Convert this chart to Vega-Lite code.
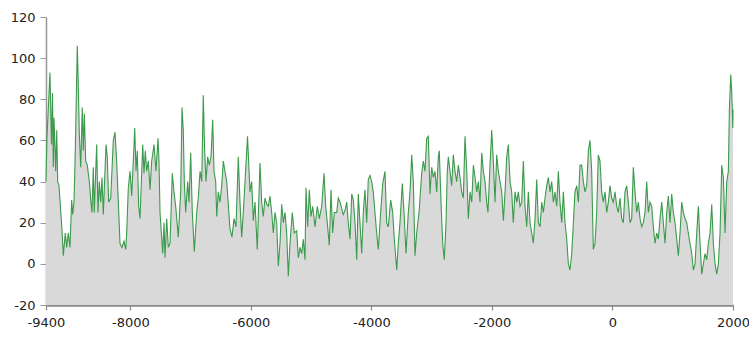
{
  "$schema": "https://vega.github.io/schema/vega-lite/v6.json",
  "width": 687,
  "height": 288,
  "autosize": "none",
  "padding": {"left": 46, "top": 17, "right": 16, "bottom": 33},
  "background": "white",
  "config": {"view": {"stroke": null}},
  "data": {"values": [
    {"year": -9400, "value": 40}, {"year": -9383, "value": 62}, {"year": -9334, "value": 93}, {"year": -9309, "value": 58},
    {"year": -9292, "value": 83}, {"year": -9279, "value": 47}, {"year": -9267, "value": 71}, {"year": -9239, "value": 45},
    {"year": -9222, "value": 65}, {"year": -9206, "value": 40}, {"year": -9184, "value": 38}, {"year": -9134, "value": 16},
    {"year": -9113, "value": 4}, {"year": -9080, "value": 15}, {"year": -9057, "value": 8}, {"year": -9030, "value": 15},
    {"year": -9002, "value": 8}, {"year": -8974, "value": 31}, {"year": -8957, "value": 24}, {"year": -8935, "value": 30},
    {"year": -8914, "value": 55}, {"year": -8881, "value": 106}, {"year": -8869, "value": 93}, {"year": -8847, "value": 63},
    {"year": -8824, "value": 47}, {"year": -8798, "value": 76}, {"year": -8781, "value": 55}, {"year": -8764, "value": 73},
    {"year": -8741, "value": 50}, {"year": -8715, "value": 48}, {"year": -8681, "value": 40}, {"year": -8658, "value": 31},
    {"year": -8637, "value": 25}, {"year": -8615, "value": 47}, {"year": -8599, "value": 25}, {"year": -8559, "value": 58},
    {"year": -8537, "value": 25}, {"year": -8516, "value": 40}, {"year": -8492, "value": 30}, {"year": -8471, "value": 42},
    {"year": -8449, "value": 24}, {"year": -8404, "value": 58}, {"year": -8383, "value": 52}, {"year": -8360, "value": 30},
    {"year": -8326, "value": 32}, {"year": -8283, "value": 60}, {"year": -8255, "value": 64}, {"year": -8227, "value": 50},
    {"year": -8200, "value": 30}, {"year": -8172, "value": 10}, {"year": -8139, "value": 8}, {"year": -8106, "value": 11},
    {"year": -8077, "value": 7}, {"year": -8061, "value": 15}, {"year": -8034, "value": 37}, {"year": -8006, "value": 45},
    {"year": -7978, "value": 33}, {"year": -7951, "value": 50}, {"year": -7928, "value": 66}, {"year": -7906, "value": 45},
    {"year": -7885, "value": 55}, {"year": -7862, "value": 28}, {"year": -7840, "value": 22}, {"year": -7795, "value": 58},
    {"year": -7774, "value": 44}, {"year": -7752, "value": 55}, {"year": -7729, "value": 45}, {"year": -7702, "value": 50},
    {"year": -7674, "value": 36}, {"year": -7646, "value": 50}, {"year": -7608, "value": 58}, {"year": -7575, "value": 45},
    {"year": -7541, "value": 61}, {"year": -7525, "value": 50}, {"year": -7508, "value": 25}, {"year": -7463, "value": 5},
    {"year": -7442, "value": 20}, {"year": -7425, "value": 3}, {"year": -7397, "value": 22}, {"year": -7371, "value": 8},
    {"year": -7342, "value": 10}, {"year": -7304, "value": 44}, {"year": -7276, "value": 35}, {"year": -7248, "value": 28},
    {"year": -7205, "value": 13}, {"year": -7165, "value": 35}, {"year": -7143, "value": 76}, {"year": -7122, "value": 65},
    {"year": -7105, "value": 40}, {"year": -7082, "value": 25}, {"year": -7049, "value": 40}, {"year": -7027, "value": 30},
    {"year": -6999, "value": 54}, {"year": -6972, "value": 25}, {"year": -6939, "value": 6}, {"year": -6899, "value": 25},
    {"year": -6873, "value": 32}, {"year": -6844, "value": 45}, {"year": -6816, "value": 40}, {"year": -6790, "value": 82},
    {"year": -6767, "value": 55}, {"year": -6745, "value": 40}, {"year": -6717, "value": 52}, {"year": -6690, "value": 48},
    {"year": -6662, "value": 52}, {"year": -6634, "value": 70}, {"year": -6612, "value": 45}, {"year": -6584, "value": 40},
    {"year": -6567, "value": 23}, {"year": -6541, "value": 35}, {"year": -6513, "value": 30}, {"year": -6484, "value": 38},
    {"year": -6458, "value": 50}, {"year": -6430, "value": 45}, {"year": -6401, "value": 40}, {"year": -6347, "value": 17},
    {"year": -6314, "value": 13}, {"year": -6280, "value": 22}, {"year": -6247, "value": 18}, {"year": -6209, "value": 52},
    {"year": -6181, "value": 30}, {"year": -6153, "value": 13}, {"year": -6126, "value": 25}, {"year": -6056, "value": 62},
    {"year": -6015, "value": 35}, {"year": -5987, "value": 40}, {"year": -5960, "value": 21}, {"year": -5932, "value": 30},
    {"year": -5894, "value": 7}, {"year": -5849, "value": 49}, {"year": -5821, "value": 30}, {"year": -5794, "value": 23},
    {"year": -5766, "value": 32}, {"year": -5738, "value": 29}, {"year": -5711, "value": 28}, {"year": -5683, "value": 33},
    {"year": -5655, "value": 25}, {"year": -5628, "value": 15}, {"year": -5600, "value": 25}, {"year": -5572, "value": 20},
    {"year": -5545, "value": -1}, {"year": -5517, "value": 10}, {"year": -5489, "value": 29}, {"year": -5462, "value": 20},
    {"year": -5434, "value": 25}, {"year": -5406, "value": 15}, {"year": -5379, "value": -6}, {"year": -5351, "value": 10},
    {"year": -5313, "value": 25}, {"year": -5280, "value": 15}, {"year": -5240, "value": 16}, {"year": -5213, "value": 3},
    {"year": -5185, "value": 8}, {"year": -5157, "value": 5}, {"year": -5130, "value": 12}, {"year": -5102, "value": 2},
    {"year": -5086, "value": 37}, {"year": -5058, "value": 18}, {"year": -5031, "value": 36}, {"year": -5003, "value": 23},
    {"year": -4974, "value": 28}, {"year": -4936, "value": 18}, {"year": -4898, "value": 28}, {"year": -4865, "value": 22},
    {"year": -4825, "value": 28}, {"year": -4787, "value": 44}, {"year": -4759, "value": 28}, {"year": -4732, "value": 20},
    {"year": -4699, "value": 9}, {"year": -4671, "value": 36}, {"year": -4643, "value": 15}, {"year": -4616, "value": 25},
    {"year": -4576, "value": 25}, {"year": -4550, "value": 32}, {"year": -4521, "value": 30}, {"year": -4493, "value": 27},
    {"year": -4467, "value": 24}, {"year": -4438, "value": 26}, {"year": -4410, "value": 30}, {"year": -4384, "value": 20},
    {"year": -4355, "value": 12}, {"year": -4327, "value": 34}, {"year": -4300, "value": 31}, {"year": -4272, "value": 20},
    {"year": -4244, "value": 2}, {"year": -4218, "value": 34}, {"year": -4190, "value": 20}, {"year": -4161, "value": 5},
    {"year": -4135, "value": 25}, {"year": -4107, "value": 36}, {"year": -4078, "value": 20}, {"year": -4052, "value": 41},
    {"year": -4024, "value": 43}, {"year": -3996, "value": 40}, {"year": -3969, "value": 35}, {"year": -3941, "value": 25},
    {"year": -3913, "value": 15}, {"year": -3886, "value": 7}, {"year": -3858, "value": 20}, {"year": -3813, "value": 39},
    {"year": -3775, "value": 45}, {"year": -3747, "value": 20}, {"year": -3720, "value": 18}, {"year": -3680, "value": 31},
    {"year": -3647, "value": 25}, {"year": -3620, "value": 12}, {"year": -3580, "value": -3}, {"year": -3554, "value": 10},
    {"year": -3526, "value": 20}, {"year": -3488, "value": 39}, {"year": -3459, "value": 25}, {"year": -3426, "value": 5},
    {"year": -3388, "value": 25}, {"year": -3360, "value": 35}, {"year": -3331, "value": 53}, {"year": -3305, "value": 40},
    {"year": -3277, "value": 4}, {"year": -3249, "value": 15}, {"year": -3210, "value": 25}, {"year": -3166, "value": 44},
    {"year": -3139, "value": 50}, {"year": -3111, "value": 45}, {"year": -3083, "value": 61}, {"year": -3056, "value": 62},
    {"year": -3028, "value": 34}, {"year": -3000, "value": 47}, {"year": -2973, "value": 42}, {"year": -2945, "value": 45},
    {"year": -2917, "value": 35}, {"year": -2890, "value": 52}, {"year": -2874, "value": 55}, {"year": -2845, "value": 30},
    {"year": -2817, "value": 10}, {"year": -2791, "value": 2}, {"year": -2762, "value": 20}, {"year": -2741, "value": 45},
    {"year": -2724, "value": 52}, {"year": -2696, "value": 45}, {"year": -2668, "value": 38}, {"year": -2641, "value": 53},
    {"year": -2613, "value": 45}, {"year": -2585, "value": 40}, {"year": -2558, "value": 48}, {"year": -2530, "value": 42},
    {"year": -2502, "value": 35}, {"year": -2475, "value": 32}, {"year": -2447, "value": 62}, {"year": -2418, "value": 45},
    {"year": -2392, "value": 22}, {"year": -2363, "value": 35}, {"year": -2335, "value": 30}, {"year": -2308, "value": 48},
    {"year": -2280, "value": 42}, {"year": -2252, "value": 35}, {"year": -2225, "value": 40}, {"year": -2198, "value": 30},
    {"year": -2170, "value": 54}, {"year": -2142, "value": 45}, {"year": -2115, "value": 40}, {"year": -2087, "value": 30},
    {"year": -2066, "value": 25}, {"year": -2032, "value": 48}, {"year": -2004, "value": 65}, {"year": -1977, "value": 50},
    {"year": -1949, "value": 30}, {"year": -1921, "value": 53}, {"year": -1894, "value": 45}, {"year": -1866, "value": 40},
    {"year": -1838, "value": 35}, {"year": -1810, "value": 21}, {"year": -1783, "value": 35}, {"year": -1755, "value": 52},
    {"year": -1728, "value": 58}, {"year": -1700, "value": 40}, {"year": -1672, "value": 35}, {"year": -1646, "value": 20},
    {"year": -1617, "value": 35}, {"year": -1589, "value": 30}, {"year": -1562, "value": 35}, {"year": -1534, "value": 28},
    {"year": -1506, "value": 30}, {"year": -1479, "value": 50}, {"year": -1451, "value": 28}, {"year": -1423, "value": 18},
    {"year": -1396, "value": 35}, {"year": -1368, "value": 20}, {"year": -1340, "value": 15}, {"year": -1313, "value": 10},
    {"year": -1285, "value": 22}, {"year": -1257, "value": 41}, {"year": -1230, "value": 20}, {"year": -1202, "value": 18},
    {"year": -1174, "value": 30}, {"year": -1147, "value": 25}, {"year": -1119, "value": 32}, {"year": -1091, "value": 38},
    {"year": -1064, "value": 42}, {"year": -1036, "value": 35}, {"year": -1008, "value": 40}, {"year": -981, "value": 30},
    {"year": -953, "value": 35}, {"year": -925, "value": 28}, {"year": -898, "value": 45}, {"year": -871, "value": 30},
    {"year": -842, "value": 20}, {"year": -815, "value": 35}, {"year": -787, "value": 20}, {"year": -759, "value": 12},
    {"year": -732, "value": 0}, {"year": -705, "value": -3}, {"year": -676, "value": 5}, {"year": -649, "value": 20},
    {"year": -622, "value": 35}, {"year": -593, "value": 38}, {"year": -566, "value": 30}, {"year": -539, "value": 48},
    {"year": -510, "value": 48}, {"year": -483, "value": 40}, {"year": -456, "value": 35}, {"year": -428, "value": 38},
    {"year": -400, "value": 55}, {"year": -373, "value": 60}, {"year": -345, "value": 45}, {"year": -318, "value": 7},
    {"year": -290, "value": 10}, {"year": -262, "value": 25}, {"year": -235, "value": 53}, {"year": -207, "value": 50},
    {"year": -179, "value": 35}, {"year": -152, "value": 30}, {"year": -124, "value": 35}, {"year": -96, "value": 25},
    {"year": -69, "value": 30}, {"year": -41, "value": 38}, {"year": -13, "value": 32}, {"year": 14, "value": 30},
    {"year": 42, "value": 35}, {"year": 70, "value": 28}, {"year": 97, "value": 25}, {"year": 125, "value": 32},
    {"year": 153, "value": 22}, {"year": 180, "value": 20}, {"year": 208, "value": 35}, {"year": 236, "value": 38},
    {"year": 263, "value": 30}, {"year": 291, "value": 20}, {"year": 319, "value": 22}, {"year": 346, "value": 47},
    {"year": 374, "value": 35}, {"year": 402, "value": 25}, {"year": 429, "value": 30}, {"year": 457, "value": 22},
    {"year": 485, "value": 18}, {"year": 512, "value": 20}, {"year": 540, "value": 25}, {"year": 568, "value": 40},
    {"year": 595, "value": 25}, {"year": 623, "value": 30}, {"year": 651, "value": 28}, {"year": 678, "value": 18},
    {"year": 706, "value": 10}, {"year": 734, "value": 15}, {"year": 761, "value": 12}, {"year": 789, "value": 22},
    {"year": 817, "value": 30}, {"year": 844, "value": 20}, {"year": 872, "value": 10}, {"year": 900, "value": 25},
    {"year": 927, "value": 33}, {"year": 955, "value": 20}, {"year": 983, "value": 34}, {"year": 1010, "value": 25},
    {"year": 1038, "value": 20}, {"year": 1066, "value": 12}, {"year": 1093, "value": 4}, {"year": 1121, "value": 15},
    {"year": 1149, "value": 30}, {"year": 1176, "value": 25}, {"year": 1204, "value": 22}, {"year": 1232, "value": 20},
    {"year": 1258, "value": 15}, {"year": 1287, "value": 10}, {"year": 1315, "value": 5}, {"year": 1342, "value": -3},
    {"year": 1370, "value": 0}, {"year": 1398, "value": 15}, {"year": 1425, "value": 28}, {"year": 1453, "value": 10},
    {"year": 1481, "value": -5}, {"year": 1508, "value": 0}, {"year": 1536, "value": 5}, {"year": 1564, "value": 2},
    {"year": 1591, "value": 10}, {"year": 1619, "value": 15}, {"year": 1647, "value": 29}, {"year": 1674, "value": 10},
    {"year": 1702, "value": 0}, {"year": 1730, "value": -5}, {"year": 1757, "value": 0}, {"year": 1785, "value": 15},
    {"year": 1813, "value": 48}, {"year": 1840, "value": 42}, {"year": 1868, "value": 15}, {"year": 1896, "value": 40},
    {"year": 1923, "value": 45}, {"year": 1940, "value": 75}, {"year": 1963, "value": 92}, {"year": 1980, "value": 83},
    {"year": 1997, "value": 66}, {"year": 2000, "value": 75}
  ]},
  "encoding": {
    "x": {
      "field": "year", "type": "quantitative",
      "scale": {"domain": [-9400, 2000], "nice": false, "zero": false},
      "axis": {
        "title": null, "grid": false, "values": [-9400, -8000, -6000, -4000, -2000, 0, 2000],
        "labelExpr": "'' + datum.value", "domainColor": "#8a8a8a", "domainWidth": 2.5, "tickColor": "#8a8a8a",
        "tickSize": 5, "tickWidth": 1.2, "labelPadding": 6, "labelFont": "DejaVu Sans", "labelFontSize": 13,
        "labelColor": "#222222", "labelFlush": false
      }
    },
    "y": {
      "field": "value", "type": "quantitative",
      "scale": {"domain": [-20, 120], "nice": false, "zero": false},
      "axis": {
        "title": null, "grid": false, "values": [-20, 0, 20, 40, 60, 80, 100, 120],
        "labelExpr": "'' + datum.value",
        "domainColor": "#999999", "domainWidth": 1.5, "tickColor": "#999999", "tickSize": 6,
        "labelPadding": 5, "labelFont": "DejaVu Sans", "labelFontSize": 13, "labelColor": "#222222"
      }
    }
  },
  "layer": [
    {"mark": {"type": "area", "color": "#d9d9d9", "opacity": 1}, "encoding": {"y2": {"datum": -20}}},
    {"mark": {"type": "line", "color": "#3c9a4c", "strokeWidth": 1.1}}
  ]
}
